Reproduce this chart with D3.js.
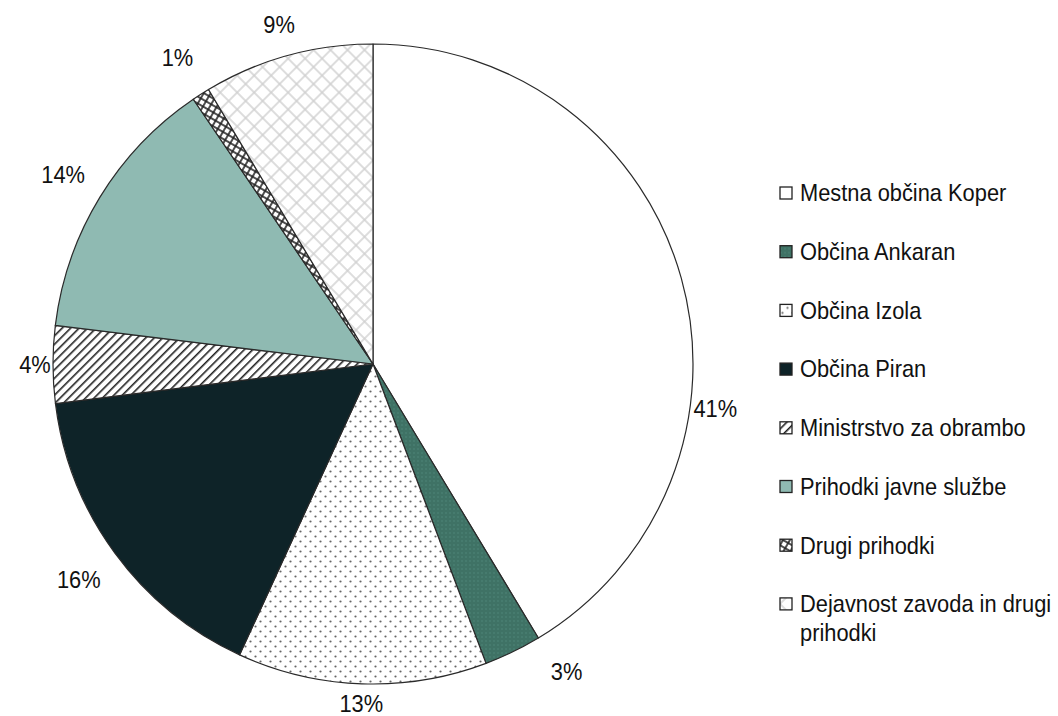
<!DOCTYPE html>
<html>
<head>
<meta charset="utf-8">
<script src="https://cdn.jsdelivr.net/npm/d3@7"></script>
<style>
  body { margin: 0; background: #fff; }
  text { font-family: "Liberation Sans", Arial, sans-serif; fill: #111; }
</style>
</head>
<body>
<div id="chart"></div>
<script>
const categories = ["Mestna občina Koper", "Občina Ankaran", "Občina Izola", "Občina Piran",
  "Ministrstvo za obrambo", "Prihodki javne službe", "Drugi prihodki", "Dejavnost zavoda in drugi prihodki"];
const shares = [41.4, 2.9, 12.6, 16.2, 3.9, 13.6, 0.9, 8.6];
const fills = ["#ffffff", "url(#ankaran)", "url(#dots)", "#0e2328", "url(#hatch)", "#8fbab2", "url(#grid)", "url(#cross)"];

const width = 1058, height = 716;
const cx = 373, cy = 364, radius = 320;
const narrow = 0.91; // fake the narrow font

const svg = d3.select("#chart").append("svg")
  .attr("width", width)
  .attr("height", height);

// patterns
const defs = svg.append("defs");

const ank = defs.append("pattern").attr("id", "ankaran").attr("patternUnits", "userSpaceOnUse")
  .attr("width", 4).attr("height", 4);
ank.append("rect").attr("width", 4).attr("height", 4).attr("fill", "#3f7265");
ank.append("rect").attr("width", 2).attr("height", 2).attr("fill", "#467b6e");

const dots = defs.append("pattern").attr("id", "dots").attr("patternUnits", "userSpaceOnUse")
  .attr("width", 10).attr("height", 10);
dots.append("rect").attr("width", 10).attr("height", 10).attr("fill", "#fff");
dots.append("circle").attr("cx", 2.5).attr("cy", 2.5).attr("r", 1.1).attr("fill", "#666");
dots.append("circle").attr("cx", 7.5).attr("cy", 7.5).attr("r", 1.1).attr("fill", "#666");

const hatch = defs.append("pattern").attr("id", "hatch").attr("patternUnits", "userSpaceOnUse")
  .attr("width", 6).attr("height", 6).attr("patternTransform", "rotate(45)");
hatch.append("rect").attr("width", 6).attr("height", 6).attr("fill", "#fff");
hatch.append("line").attr("x1", 0).attr("y1", 0).attr("x2", 0).attr("y2", 6)
  .attr("stroke", "#222").attr("stroke-width", 3.2);

const grid = defs.append("pattern").attr("id", "grid").attr("patternUnits", "userSpaceOnUse")
  .attr("width", 6).attr("height", 6).attr("patternTransform", "rotate(30)");
grid.append("rect").attr("width", 6).attr("height", 6).attr("fill", "#fff")
  .attr("stroke", "#222").attr("stroke-width", 1.6);

const cross = defs.append("pattern").attr("id", "cross").attr("patternUnits", "userSpaceOnUse")
  .attr("width", 12).attr("height", 12).attr("patternTransform", "rotate(45)");
cross.append("rect").attr("width", 12).attr("height", 12).attr("fill", "#fff")
  .attr("stroke", "#cfcfcf").attr("stroke-width", 1.4);

const g = svg.append("g").attr("transform", `translate(${cx}, ${cy})`);

const pie = d3.pie().value(d => d).sort(null);
const arc = d3.arc().innerRadius(0).outerRadius(radius);
const arcs = pie(shares);

g.selectAll("path.slice")
  .data(arcs)
  .enter().append("path")
  .attr("class", "slice")
  .attr("d", arc)
  .attr("fill", (d, i) => fills[i])
  .attr("stroke", "#2a2a2a")
  .attr("stroke-width", 1.2)
  .attr("stroke-linejoin", "round");

// labels around the pie, Excel "best fit" nudges a couple of them
const angleShift = { 0: 0.4, 1: -0.11 };
g.selectAll("text.pct")
  .data(arcs)
  .enter().append("text")
  .attr("class", "pct")
  .attr("text-anchor", "middle")
  .attr("dominant-baseline", "central")
  .style("font-size", "24px")
  .attr("transform", (d, i) => {
    const a = (d.startAngle + d.endAngle) / 2 + (angleShift[i] || 0);
    const r = radius + 18 + 28 * Math.abs(Math.sin(2 * a));
    return `translate(${Math.sin(a) * r}, ${-Math.cos(a) * r}) scale(${narrow}, 1)`;
  })
  .text(d => Math.round(d.data) + "%");

// legend
const legend = svg.append("g").attr("transform", "translate(780, 193)");
categories.forEach((c, i) => {
  const row = legend.append("g").attr("transform", `translate(0, ${i * 58.7})`);
  row.append("rect")
    .attr("x", 0).attr("y", -6)
    .attr("width", 12).attr("height", 12)
    .attr("fill", fills[i])
    .attr("stroke", "#222")
    .attr("stroke-width", 1.3);
  const t = row.append("text")
    .attr("transform", `translate(20, 0) scale(${narrow}, 1)`)
    .attr("dominant-baseline", "central")
    .style("font-size", "24px");
  if (i === categories.length - 1) {
    t.append("tspan").attr("x", 0).text("Dejavnost zavoda in drugi");
    t.append("tspan").attr("x", 0).attr("dy", 29).text("prihodki");
  } else {
    t.text(c);
  }
});
</script>
</body>
</html>
